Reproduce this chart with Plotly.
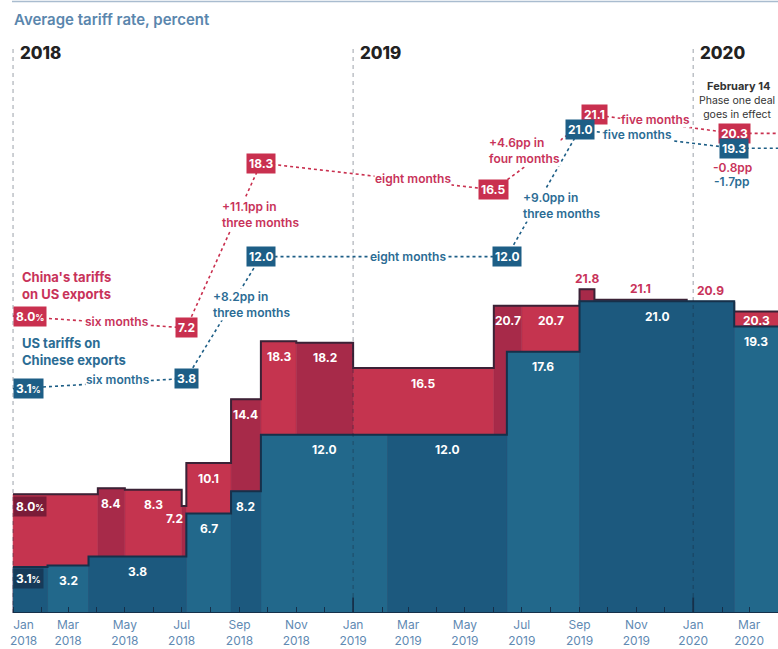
import plotly.graph_objects as go
import pandas as pd

# ---------------- data ----------------
cn_dates = ["2018-01-01", "2018-04-02", "2018-05-01", "2018-07-01", "2018-07-06",
            "2018-08-23", "2018-09-24", "2018-11-01", "2019-01-01", "2019-06-01",
            "2019-07-01", "2019-09-01", "2019-09-17", "2019-12-25", "2020-02-14"]
cn_values = [8.0, 8.4, 8.3, 7.2, 10.1, 14.4, 18.3, 18.2, 16.5, 20.7, 20.7, 21.8, 21.1, 20.9, 20.3]

us_dates = ["2018-01-01", "2018-02-07", "2018-03-23", "2018-07-06", "2018-08-23",
            "2018-09-24", "2019-02-07", "2019-06-15", "2019-09-01", "2020-02-14"]
us_values = [3.1, 3.2, 3.8, 6.7, 8.2, 12.0, 12.0, 17.6, 21.0, 19.3]

end_date = "2020-04-01"

cn_key_dates = ["2018-01-01", "2018-07-06", "2018-09-24", "2019-06-01", "2019-09-17", "2020-02-14"]
cn_key_values = [8.0, 7.2, 18.3, 16.5, 21.1, 20.3]
cn_key_notes = ["six months", "+11.1pp in<br>three months", "eight months",
                "+4.6pp in<br>four months", "five months"]
cn_change = "-0.8pp"

us_key_dates = ["2018-01-01", "2018-07-06", "2018-09-24", "2019-06-15", "2019-09-01", "2020-02-14"]
us_key_values = [3.1, 3.8, 12.0, 12.0, 21.0, 19.3]
us_key_notes = ["six months", "+8.2pp in<br>three months", "eight months",
                "+9.0pp in<br>three months", "five months"]
us_change = "-1.7pp"

year_dates = ["2018-01-01", "2019-01-01", "2020-01-01"]
year_labels = ["2018", "2019", "2020"]

tick_dates = ["2018-01-01", "2018-02-01", "2018-03-01", "2018-04-01", "2018-05-01", "2018-06-01",
              "2018-07-01", "2018-08-01", "2018-09-01", "2018-10-01", "2018-11-01", "2018-12-01",
              "2019-01-01", "2019-02-01", "2019-03-01", "2019-04-01", "2019-05-01", "2019-06-01",
              "2019-07-01", "2019-08-01", "2019-09-01", "2019-10-01", "2019-11-01", "2019-12-01",
              "2020-01-01", "2020-02-01", "2020-03-01"]
tick_labels = ["Jan<br>2018", "", "Mar<br>2018", "", "May<br>2018", "", "Jul<br>2018", "",
               "Sep<br>2018", "", "Nov<br>2018", "", "Jan<br>2019", "", "Mar<br>2019", "",
               "May<br>2019", "", "Jul<br>2019", "", "Sep<br>2019", "", "Nov<br>2019", "",
               "Jan<br>2020", "", "Mar<br>2020"]

# ---------------- styles ----------------
FONT = "Inter"
RED_L, RED_D, RED_BOX_D, RED_LINE = "#c5344f", "#a72a49", "#7a1c38", "#3b2236"
BLUE_L, BLUE_D, BLUE_BOX_D, BLUE_LINE = "#22688b", "#1c597e", "#163a59", "#16304a"
RED_T, BLUE_T = "#c8335a", "#2b6c94"
RED_K, BLUE_K = "#c9304f", "#1d5e86"
AXIS_T = "#5f8ab3"
SCHEME_OFFSET = 12.0

red_note_shift = [(17, 0), (37, 31), (36, -2), (-20, 2), (-9, 5)]
blue_note_shift = [(18, 4), (28, 13), (24, 0), (18, -12), (-19, 4)]

fig = go.Figure()


def periods(dates):
    starts = [pd.Timestamp(d) for d in dates]
    ends = starts[1:] + [pd.Timestamp(end_date)]
    return starts, ends


def add_area(dates, values, light, dark, line_col, first_dark):
    starts, ends = periods(dates)
    for parity, col in ((0, light), (1, dark)):
        xs, ys = [], []
        for i, (s, e, v) in enumerate(zip(starts, ends, values)):
            is_dark = (i % 2 == 0) == first_dark
            if (parity == 1) != is_dark:
                continue
            xs += [s, s, e, e, s, None]
            ys += [0, v, v, 0, 0, None]
        fig.add_trace(go.Scatter(x=xs, y=ys, fill="toself", fillcolor=col, mode="lines",
                                 line=dict(color=col, width=0.6), hoverinfo="skip",
                                 showlegend=False))
    fig.add_trace(go.Scatter(x=starts + [ends[-1]], y=list(values) + [values[-1]],
                             mode="lines", line=dict(color=line_col, width=2, shape="hv"),
                             hoverinfo="skip", showlegend=False))


add_area(cn_dates, cn_values, RED_L, RED_D, RED_LINE, first_dark=False)
add_area(us_dates, us_values, BLUE_L, BLUE_D, BLUE_LINE, first_dark=True)

annotations = []


def value_at(dates, values, t):
    v = values[0]
    for d, val in zip(dates, values):
        if pd.Timestamp(d) <= t:
            v = val
    return v


def fmt(v):
    return f"{v:.1f}"


pct = "<span style='font-size:9px'>%</span>"

# labels in the blue area
s_us, e_us = periods(us_dates)
for i, (s, e, v) in enumerate(zip(s_us, e_us, us_values)):
    mid = s + (e - s) / 2
    if i == 0:
        annotations.append(dict(x=s, y=v, text="<b>" + fmt(v) + pct + "</b>", xanchor="left",
                                yanchor="top", yshift=-1, bgcolor=BLUE_BOX_D, borderpad=2,
                                font=dict(color="white", size=12, family=FONT)))
    else:
        annotations.append(dict(x=mid, y=v, text="<b>" + fmt(v) + "</b>", yanchor="middle",
                                yshift=-15, font=dict(color="white", size=12, family=FONT)))

# labels in the red area
s_cn, e_cn = periods(cn_dates)
for i, (s, e, v) in enumerate(zip(s_cn, e_cn, cn_values)):
    mid = s + (e - s) / 2
    under = value_at(us_dates, us_values, mid)
    gap = round(v - under, 2)
    if i == 0:
        annotations.append(dict(x=s, y=v, text="<b>" + fmt(v) + pct + "</b>", xanchor="left",
                                yanchor="top", yshift=-2, bgcolor=RED_BOX_D, borderpad=2,
                                font=dict(color="white", size=12, family=FONT)))
    elif gap < 1.0:
        annotations.append(dict(x=mid, y=max(v, under), text="<b>" + fmt(v) + "</b>",
                                yanchor="middle", yshift=11,
                                font=dict(color=RED_T, size=12, family=FONT)))
    elif (e - s).days < 10:
        annotations.append(dict(x=s, y=v, text="<b>" + fmt(v) + "</b>", xanchor="right",
                                xshift=3, yanchor="middle", yshift=-12,
                                font=dict(color="white", size=12, family=FONT)))
    elif gap < 2.0:
        annotations.append(dict(x=mid, y=(v + under) / 2, text="<b>" + fmt(v) + "</b>",
                                yanchor="middle", yshift=-1,
                                font=dict(color="white", size=12, family=FONT)))
    else:
        annotations.append(dict(x=mid, y=v, text="<b>" + fmt(v) + "</b>", yanchor="middle",
                                yshift=-15, font=dict(color="white", size=12, family=FONT)))

# ---------------- schematic (values offset above the areas) ----------------
cn_sy, us_sy = [], []
for c, u in zip(cn_key_values, us_key_values):
    gap = c - u
    nudge = (1.0 - gap) / 2 if gap < 0.5 else 0.0
    cn_sy.append(c + SCHEME_OFFSET + nudge)
    us_sy.append(u + SCHEME_OFFSET - nudge)


def add_scheme(dates, values, ys, notes, shifts, box_col, text_col, change, change_shift):
    ts = [pd.Timestamp(d) for d in dates]
    fig.add_trace(go.Scatter(x=ts + [pd.Timestamp(end_date)], y=ys + [ys[-1]], mode="lines",
                             line=dict(color=box_col, width=1.6, dash="3px,3px"),
                             hoverinfo="skip", showlegend=False))
    for i, (t, v, y) in enumerate(zip(ts, values, ys)):
        txt = "<b>" + fmt(v) + (pct if i == 0 else "") + "</b>"
        annotations.append(dict(x=t, y=y, text=txt, xanchor="left" if i == 0 else "center",
                                yanchor="middle", bgcolor=box_col, borderpad=2,
                                font=dict(color="white", size=12, family=FONT)))
    for i, note in enumerate(notes):
        mx = ts[i] + (ts[i + 1] - ts[i]) / 2
        my = (ys[i] + ys[i + 1]) / 2
        dx, dy = shifts[i]
        annotations.append(dict(x=mx, y=my, text=note, xshift=dx, yshift=dy, align="left",
                                bgcolor="white", borderpad=0,
                                font=dict(color=text_col, size=12, family=FONT, weight=600)))
    annotations.append(dict(x=ts[-1], y=ys[-1], text=change, xshift=-2, yshift=change_shift,
                            font=dict(color=text_col, size=12, family=FONT, weight=600)))


add_scheme(cn_key_dates, cn_key_values, cn_sy, cn_key_notes, red_note_shift, RED_K, RED_T,
           cn_change, -34)
add_scheme(us_key_dates, us_key_values, us_sy, us_key_notes, blue_note_shift, BLUE_K, BLUE_T,
           us_change, -33)

annotations.append(dict(x=cn_key_dates[0], y=cn_sy[0], text="China's tariffs<br>on US exports",
                        xanchor="left", xshift=7, yshift=31, align="left",
                        font=dict(color=RED_T, size=13, family=FONT, weight=700)))
annotations.append(dict(x=us_key_dates[0], y=us_sy[0], text="US tariffs on<br>Chinese exports",
                        xanchor="left", xshift=7, yshift=37, align="left",
                        font=dict(color=BLUE_T, size=13, family=FONT, weight=700)))

annotations.append(dict(x=cn_key_dates[-1], yref="paper", y=0.92, text="February 14",
                        xshift=4, yanchor="middle",
                        font=dict(color="#333333", size=11, family=FONT, weight=700)))
annotations.append(dict(x=cn_key_dates[-1], yref="paper", y=0.882,
                        text="Phase one deal<br>goes in effect", xshift=3, yanchor="middle",
                        font=dict(color="#333333", size=10.5, family=FONT)))

# year labels and dividers
shapes = []
for d, lab in zip(year_dates, year_labels):
    annotations.append(dict(x=d, yref="paper", y=0.977, text=lab, xanchor="left", xshift=5,
                            yanchor="middle", font=dict(color="#222222", size=17, family=FONT,
                                                        weight=800)))
    shapes.append(dict(type="line", xref="x", yref="paper", x0=d, x1=d, y0=0, y1=0.99,
                       line=dict(color="rgba(25,35,55,0.33)", width=1.3, dash="4px,4px"),
                       layer="above"))
    if d != year_dates[0]:
        shapes.append(dict(type="line", xref="x", yref="y", x0=d, x1=d, y0=0, y1=1.05,
                           line=dict(color=BLUE_LINE, width=1.8), layer="above"))

# axis baseline
shapes.append(dict(type="line", xref="x", yref="y", x0=cn_dates[0], x1=end_date, y0=0, y1=0,
                   line=dict(color=BLUE_LINE, width=2), layer="above"))
# top rule
shapes.append(dict(type="line", xref="paper", yref="paper", x0=0.0154, x1=1, y0=1.067, y1=1.067,
                   line=dict(color="#a9bccf", width=1.5)))

annotations.append(dict(xref="paper", yref="paper", x=0.0154, y=1.035, xanchor="left",
                        yanchor="middle", text="Average tariff rate, percent", showarrow=False,
                        font=dict(color="#5a86ad", size=15, family=FONT, weight=600)))

# the first tick label sits to the right of its tick in the reference
annotations.append(dict(x=tick_dates[0], yref="paper", y=0, yanchor="top", yshift=-3,
                        xanchor="left", xshift=-4, text=tick_labels[0], align="center",
                        borderpad=0, font=dict(color=AXIS_T, size=12, family=FONT)))
tick_text = ["" if i == 0 else t for i, t in enumerate(tick_labels)]

for a in annotations:
    a.setdefault("showarrow", False)

fig.update_layout(
    width=778, height=649,
    margin=dict(l=0, r=0, t=40, b=36, autoexpand=False),
    paper_bgcolor="white", plot_bgcolor="white",
    showlegend=False,
    annotations=annotations,
    shapes=shapes,
    xaxis=dict(type="date", range=["2017-12-18", end_date], tickvals=tick_dates,
               ticktext=tick_text, ticks="inside", ticklen=6, tickwidth=1.4,
               tickcolor=BLUE_LINE, showgrid=False, zeroline=False, showline=False,
               tickfont=dict(color=AXIS_T, size=12, family=FONT), ticklabelstandoff=3,
               ticklabeloverflow="allow", fixedrange=True),
    yaxis=dict(range=[0, 38.59], visible=False, showgrid=False, zeroline=False,
               fixedrange=True),
)

fig.write_html("out.html", config={"displayModeBar": False},
               post_script="document.body.style.margin='0';")
